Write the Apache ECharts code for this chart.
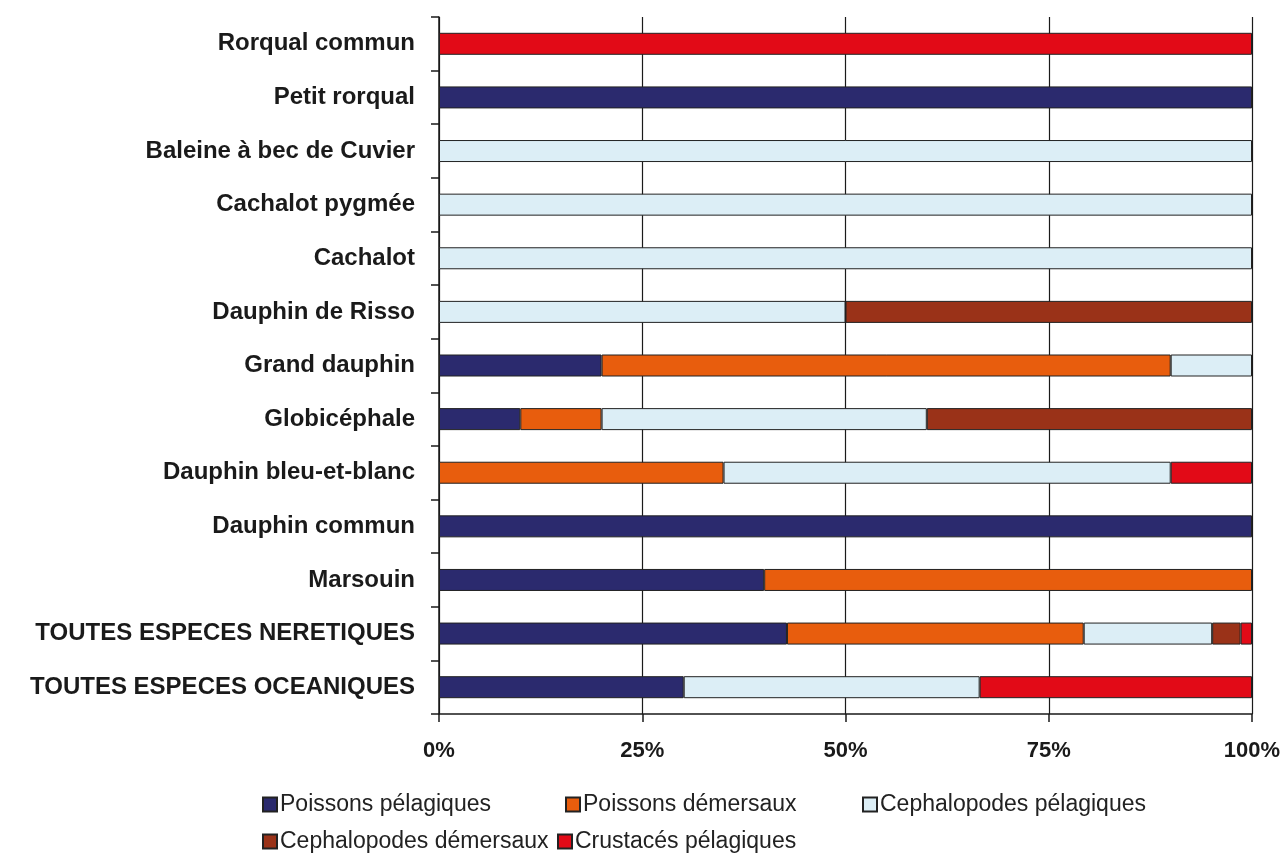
<!DOCTYPE html>
<html>
<head>
<meta charset="utf-8">
<script src="https://cdn.jsdelivr.net/npm/echarts@6/dist/echarts.min.js"></script>
<style>
    html, body {margin: 0; padding: 0; background: #fff;}
    #dietChart {width: 1280px; height: 854px;}
</style>
</head>
<body>
<div id="dietChart"></div>
<script>
const species = [
    'Rorqual commun', 'Petit rorqual', 'Baleine à bec de Cuvier', 'Cachalot pygmée', 'Cachalot',
    'Dauphin de Risso', 'Grand dauphin', 'Globicéphale', 'Dauphin bleu-et-blanc', 'Dauphin commun',
    'Marsouin', 'TOUTES ESPECES NERETIQUES', 'TOUTES ESPECES OCEANIQUES'
];

// share of each prey group (%), same order as species
const poissonsPelagiques = [0, 100, 0, 0, 0, 0, 20, 10, 0, 100, 40, 42.8, 30.1];
const poissonsDemersaux = [0, 0, 0, 0, 0, 0, 70, 10, 35, 0, 60, 36.5, 0];
const cephalopodesPelagiques = [0, 0, 100, 100, 100, 50, 10, 40, 55, 0, 0, 15.8, 36.4];
const cephalopodesDemersaux = [0, 0, 0, 0, 0, 50, 0, 40, 0, 0, 0, 3.5, 0];
const crustacesPelagiques = [100, 0, 0, 0, 0, 0, 0, 0, 10, 0, 0, 1.4, 33.5];

const xTicks = [0, 25, 50, 75, 100];

const groups = [
    {name: 'Poissons pélagiques', values: poissonsPelagiques, color: '#2B2A6E'},
    {name: 'Poissons démersaux', values: poissonsDemersaux, color: '#E85D0D'},
    {name: 'Cephalopodes pélagiques', values: cephalopodesPelagiques, color: '#DCEEF6'},
    {name: 'Cephalopodes démersaux', values: cephalopodesDemersaux, color: '#9A3218'},
    {name: 'Crustacés pélagiques', values: crustacesPelagiques, color: '#E20A17'}
];

// legend slots, laid out like the original two-row legend
const legendSlots = [
    {left: 262, top: 793},
    {left: 565, top: 793},
    {left: 862, top: 793},
    {left: 262, top: 830},
    {left: 557, top: 830}
];

const chart = echarts.init(document.getElementById('dietChart'));

const option = {
    animation: false,
    textStyle: {fontFamily: 'Liberation Sans, Arial, sans-serif'},
    grid: {left: 439, right: 28, top: 17, bottom: 140, containLabel: false, outerBoundsMode: 'none'},
    legend: groups.map((g, i) => ({
        data: [g.name],
        left: legendSlots[i].left,
        top: legendSlots[i].top,
        padding: 0,
        itemWidth: 14,
        itemHeight: 14,
        itemGap: 0,
        icon: 'rect',
        selectedMode: false,
        textStyle: {fontSize: 23, color: '#222', padding: [0, 0, 0, -2]}
    })),
    xAxis: {
        type: 'value',
        min: xTicks[0],
        max: xTicks[xTicks.length - 1],
        interval: 25,
        axisLine: {show: true, lineStyle: {color: '#1a1a1a', width: 1.5}},
        axisTick: {show: true, length: 8, lineStyle: {color: '#1a1a1a', width: 1.5}},
        axisLabel: {
            formatter: '{value}%',
            margin: 26,
            fontSize: 22,
            fontWeight: 'bold',
            color: '#1a1a1a'
        },
        splitLine: {show: true, lineStyle: {color: '#1a1a1a', width: 1.2}}
    },
    yAxis: {
        type: 'category',
        data: species,
        inverse: true,
        axisLine: {show: true, lineStyle: {color: '#1a1a1a', width: 1.5}},
        axisTick: {show: true, length: 8, lineStyle: {color: '#1a1a1a', width: 1.5}},
        axisLabel: {
            margin: 24,
            fontSize: 24,
            fontWeight: 'bold',
            color: '#1a1a1a',
            padding: [3, 0, 0, 0]
        }
    },
    series: groups.map(g => ({
        name: g.name,
        type: 'bar',
        stack: 'diet',
        barWidth: 22,
        itemStyle: {color: g.color, borderColor: '#222', borderWidth: 1},
        data: g.values.map(v => (v === 0 ? '-' : v))
    }))
};

chart.setOption(option);
</script>
</body>
</html>
